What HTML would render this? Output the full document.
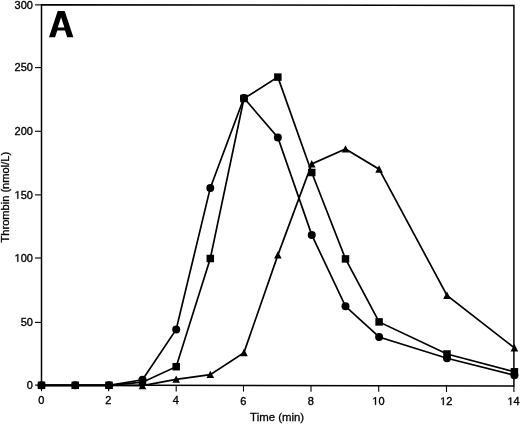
<!DOCTYPE html><html><head><meta charset="utf-8"><style>html,body{margin:0;padding:0;background:#fff;}svg{display:block;will-change:transform;filter:blur(0.3px);}text{font-family:"Liberation Sans",sans-serif;fill:#000;}</style></head><body>
<svg width="520" height="424" viewBox="0 0 520 424">
<rect x="0" y="0" width="520" height="424" fill="#fff"/>
<path d="M41.5,4.85 L513.9,5.4 L513.9,385.9 L41.5,385.0 Z" fill="none" stroke="#000" stroke-width="1.5" stroke-linejoin="miter"/>
<line x1="35" y1="385.10" x2="41.5" y2="385.10" stroke="#000" stroke-width="1.1"/>
<text x="26.78" y="388.90" font-size="11" stroke="#000" stroke-width="0.35">0</text>
<line x1="35" y1="322.40" x2="41.5" y2="322.40" stroke="#000" stroke-width="1.1"/>
<text x="20.66" y="326.20" font-size="11" stroke="#000" stroke-width="0.35">50</text>
<line x1="35" y1="258.00" x2="41.5" y2="258.00" stroke="#000" stroke-width="1.1"/>
<path transform="translate(14.55,261.80) scale(0.005371,-0.005371)" d="M515 0V1237L197 1010V1180L530 1409H696V0Z" fill="#000" stroke="#000" stroke-width="65.2"/><text x="20.66" y="261.80" font-size="11" stroke="#000" stroke-width="0.35">00</text>
<line x1="35" y1="194.90" x2="41.5" y2="194.90" stroke="#000" stroke-width="1.1"/>
<path transform="translate(14.55,198.70) scale(0.005371,-0.005371)" d="M515 0V1237L197 1010V1180L530 1409H696V0Z" fill="#000" stroke="#000" stroke-width="65.2"/><text x="20.66" y="198.70" font-size="11" stroke="#000" stroke-width="0.35">50</text>
<line x1="35" y1="131.30" x2="41.5" y2="131.30" stroke="#000" stroke-width="1.1"/>
<text x="14.55" y="135.10" font-size="11" stroke="#000" stroke-width="0.35">200</text>
<line x1="35" y1="67.60" x2="41.5" y2="67.60" stroke="#000" stroke-width="1.1"/>
<text x="14.55" y="71.40" font-size="11" stroke="#000" stroke-width="0.35">250</text>
<line x1="35" y1="4.85" x2="41.5" y2="4.85" stroke="#000" stroke-width="1.1"/>
<text x="14.55" y="8.65" font-size="11" stroke="#000" stroke-width="0.35">300</text>
<line x1="41.50" y1="385.00" x2="41.50" y2="391.20" stroke="#000" stroke-width="1.1"/>
<text x="38.14" y="404.20" font-size="11" stroke="#000" stroke-width="0.35">0</text>
<line x1="108.70" y1="385.13" x2="108.70" y2="391.33" stroke="#000" stroke-width="1.1"/>
<text x="105.34" y="404.33" font-size="11" stroke="#000" stroke-width="0.35">2</text>
<line x1="176.20" y1="385.26" x2="176.20" y2="391.46" stroke="#000" stroke-width="1.1"/>
<text x="172.84" y="404.46" font-size="11" stroke="#000" stroke-width="0.35">4</text>
<line x1="243.50" y1="385.38" x2="243.50" y2="391.58" stroke="#000" stroke-width="1.1"/>
<text x="240.14" y="404.58" font-size="11" stroke="#000" stroke-width="0.35">6</text>
<line x1="311.00" y1="385.51" x2="311.00" y2="391.71" stroke="#000" stroke-width="1.1"/>
<text x="307.64" y="404.71" font-size="11" stroke="#000" stroke-width="0.35">8</text>
<line x1="378.70" y1="385.64" x2="378.70" y2="391.84" stroke="#000" stroke-width="1.1"/>
<path transform="translate(372.28,404.84) scale(0.005371,-0.005371)" d="M515 0V1237L197 1010V1180L530 1409H696V0Z" fill="#000" stroke="#000" stroke-width="65.2"/><text x="378.40" y="404.84" font-size="11" stroke="#000" stroke-width="0.35">0</text>
<line x1="446.50" y1="385.77" x2="446.50" y2="391.97" stroke="#000" stroke-width="1.1"/>
<path transform="translate(440.08,404.97) scale(0.005371,-0.005371)" d="M515 0V1237L197 1010V1180L530 1409H696V0Z" fill="#000" stroke="#000" stroke-width="65.2"/><text x="446.20" y="404.97" font-size="11" stroke="#000" stroke-width="0.35">2</text>
<line x1="513.90" y1="385.90" x2="513.90" y2="392.10" stroke="#000" stroke-width="1.1"/>
<path transform="translate(507.48,405.10) scale(0.005371,-0.005371)" d="M515 0V1237L197 1010V1180L530 1409H696V0Z" fill="#000" stroke="#000" stroke-width="65.2"/><text x="513.60" y="405.10" font-size="11" stroke="#000" stroke-width="0.35">4</text>
<text x="277.1" y="420.6" font-size="11.4" text-anchor="middle" stroke="#000" stroke-width="0.3">Time (min)</text>
<text transform="translate(9.1,197.2) rotate(-90)" font-size="11.1" text-anchor="middle" stroke="#000" stroke-width="0.3">Thrombin (nmol/L)</text>
<path fill-rule="evenodd" fill="#000" d="M49.0,37.2 L57.7,11.0 L64.7,11.0 L73.4,37.2 L67.2,37.2 L65.0,30.6 L57.3,30.6 L55.1,37.2 Z M61.1,17.2 L64.4,27.6 L57.8,27.6 Z"/>
<polyline points="41.50,385.30 75.30,385.30 109.00,385.30 142.50,385.70 176.20,379.30 210.30,374.60 243.95,352.65 277.85,255.10 311.75,163.90 345.50,148.95 379.10,169.15 447.00,295.40 514.40,347.90" fill="none" stroke="#000" stroke-width="1.7" stroke-linejoin="miter"/>
<polyline points="41.50,385.30 75.30,385.30 109.00,385.30 142.50,382.20 176.20,366.70 210.30,258.50 243.95,98.50 277.85,77.10 311.75,172.50 345.50,258.90 379.10,321.90 447.00,354.00 514.40,371.80" fill="none" stroke="#000" stroke-width="1.7" stroke-linejoin="miter"/>
<polyline points="41.50,385.30 75.30,385.30 109.00,385.30 142.50,379.80 176.20,329.40 210.30,187.90 243.95,98.00 277.85,137.40 311.75,234.90 345.50,306.30 379.10,337.00 447.00,358.30 514.40,375.30" fill="none" stroke="#000" stroke-width="1.7" stroke-linejoin="miter"/>
<path d="M41.50,381.50 L45.30,388.80 L37.70,388.80Z" fill="#000"/>
<path d="M75.30,381.50 L79.10,388.80 L71.50,388.80Z" fill="#000"/>
<path d="M109.00,381.50 L112.80,388.80 L105.20,388.80Z" fill="#000"/>
<path d="M142.50,381.90 L146.30,389.20 L138.70,389.20Z" fill="#000"/>
<path d="M176.20,375.50 L180.00,382.80 L172.40,382.80Z" fill="#000"/>
<path d="M210.30,370.80 L214.10,378.10 L206.50,378.10Z" fill="#000"/>
<path d="M243.95,348.85 L247.75,356.15 L240.15,356.15Z" fill="#000"/>
<path d="M277.85,251.30 L281.65,258.60 L274.05,258.60Z" fill="#000"/>
<path d="M311.75,160.10 L315.55,167.40 L307.95,167.40Z" fill="#000"/>
<path d="M345.50,145.15 L349.30,152.45 L341.70,152.45Z" fill="#000"/>
<path d="M379.10,165.35 L382.90,172.65 L375.30,172.65Z" fill="#000"/>
<path d="M447.00,291.60 L450.80,298.90 L443.20,298.90Z" fill="#000"/>
<path d="M514.40,344.10 L518.20,351.40 L510.60,351.40Z" fill="#000"/>
<circle cx="41.50" cy="385.30" r="4.0" fill="#000"/>
<circle cx="75.30" cy="385.30" r="4.0" fill="#000"/>
<circle cx="109.00" cy="385.30" r="4.0" fill="#000"/>
<circle cx="142.50" cy="379.80" r="4.0" fill="#000"/>
<circle cx="176.20" cy="329.40" r="4.0" fill="#000"/>
<circle cx="210.30" cy="187.90" r="4.0" fill="#000"/>
<circle cx="243.95" cy="98.00" r="4.0" fill="#000"/>
<circle cx="277.85" cy="137.40" r="4.0" fill="#000"/>
<circle cx="311.75" cy="234.90" r="4.0" fill="#000"/>
<circle cx="345.50" cy="306.30" r="4.0" fill="#000"/>
<circle cx="379.10" cy="337.00" r="4.0" fill="#000"/>
<circle cx="447.00" cy="358.30" r="4.0" fill="#000"/>
<circle cx="514.40" cy="375.30" r="4.0" fill="#000"/>
<rect x="37.75" y="381.55" width="7.5" height="7.5" fill="#000"/>
<rect x="71.55" y="381.55" width="7.5" height="7.5" fill="#000"/>
<rect x="105.25" y="381.55" width="7.5" height="7.5" fill="#000"/>
<rect x="138.75" y="378.45" width="7.5" height="7.5" fill="#000"/>
<rect x="172.45" y="362.95" width="7.5" height="7.5" fill="#000"/>
<rect x="206.55" y="254.75" width="7.5" height="7.5" fill="#000"/>
<rect x="240.20" y="94.75" width="7.5" height="7.5" fill="#000"/>
<rect x="274.10" y="73.35" width="7.5" height="7.5" fill="#000"/>
<rect x="308.00" y="168.75" width="7.5" height="7.5" fill="#000"/>
<rect x="341.75" y="255.15" width="7.5" height="7.5" fill="#000"/>
<rect x="375.35" y="318.15" width="7.5" height="7.5" fill="#000"/>
<rect x="443.25" y="350.25" width="7.5" height="7.5" fill="#000"/>
<rect x="510.65" y="368.05" width="7.5" height="7.5" fill="#000"/>
</svg></body></html>
